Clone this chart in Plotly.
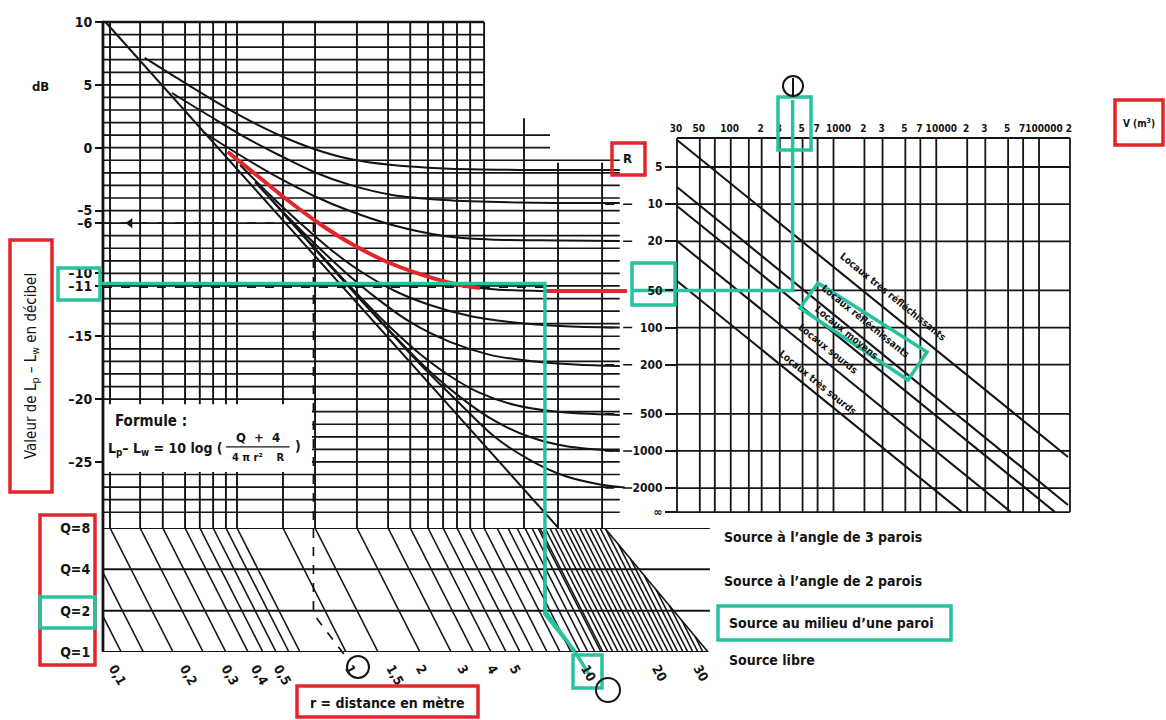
import math
import plotly.graph_objects as go

W, H = 1166, 720
def px(x): return x / W
def py(y): return 1 - y / H

# ---------------- values ----------------
# left chart: level axis (dB)
DB_TICKS = [10, 5, 0, -5, -6, -10, -11, -15, -20, -25]
DB_TEXT = ["10", "5", "0", "–5", "–6", "–10", "–11", "–15", "–20", "–25"]
GRID_DB = list(range(10, -30, -1))          # 1 dB rulings
DB_STRIP_TOP = -30.25                        # lower edge of the level grid
DB_STRIP_BOTTOM = -40.1

# vertical rulings of the level grid, on the distance scale
GRID_R_A = [0.0962, 0.129, 0.161, 0.200, 0.231, 0.263, 0.298, 0.332, 0.52,
            0.711, 1.07, 1.45, 1.80, 2.14, 2.48, 2.84, 3.23, 3.70]
GRID_R_B = [5.46]
GRID_R_C = [7.61, 11.7]
R_LEFT = 0.0898
R_END_A, R_END_B, R_END_C = 3.70, 7.04, 13.9

# direct field line (R = infinity)
INF_R = [0.092, 7.6]
INF_DB = [10.0, -30.2]

# curves Lp-Lw for each room constant R
C5_R = [0.135, 0.176, 0.25, 0.352, 0.50, 0.704, 1.0, 1.51, 2.50, 5.25, 13.9]
C5_DB = [7.14, 5.79, 4.03, 2.44, 1.01, -0.10, -0.90, -1.38, -1.65, -1.77, -1.77]
C10_R = [0.176, 0.25, 0.352, 0.50, 0.704, 1.0, 1.51, 2.50, 5.25, 13.9]
C10_DB = [4.35, 2.60, 0.93, -0.58, -1.93, -2.96, -3.76, -4.16, -4.36, -4.40]
C20_R = [0.238, 0.352, 0.50, 0.704, 1.0, 1.51, 2.50, 3.92, 7.75, 13.9]
C20_DB = [1.25, -0.74, -2.41, -3.84, -5.04, -6.15, -7.02, -7.30, -7.38, -7.42]
C50_R = [0.304, 0.416, 0.557, 0.746, 1.0, 1.407, 1.98, 2.79, 3.92, 6.39, 13.9]
C50_DB = [-0.34, -2.41, -4.32, -6.07, -7.58, -9.01, -10.05, -10.84, -11.24, -11.40, -11.44]
C100_R = [0.342, 0.458, 0.614, 0.823, 1.103, 1.551, 2.18, 3.22, 4.76, 7.75, 13.9]
C100_DB = [-1.38, -3.76, -5.99, -8.06, -9.81, -11.40, -12.51, -13.39, -13.86, -14.18, -14.30]
C200_R = [0.396, 0.530, 0.711, 0.952, 1.276, 1.796, 2.65, 3.92, 5.79, 8.98, 13.9]
C200_DB = [-2.73, -5.27, -7.66, -9.88, -11.87, -13.86, -15.45, -16.48, -16.96, -17.25, -17.37]
C500_R = [0.458, 0.614, 0.823, 1.103, 1.477, 1.98, 2.65, 3.55, 5.0, 7.38, 13.9]
C500_DB = [-4.00, -6.71, -9.33, -11.87, -14.26, -16.41, -18.16, -19.51, -20.47, -20.99, -21.26]
C1000_R = [0.530, 0.746, 1.05, 1.477, 2.08, 2.93, 4.11, 5.79, 8.15, 13.9]
C1000_DB = [-5.35, -8.46, -11.56, -14.59, -17.45, -19.84, -21.74, -23.02, -23.73, -24.13]
C2000_R = [0.614, 0.907, 1.34, 1.98, 2.93, 4.11, 5.79, 8.15, 11.47, 14.6]
C2000_DB = [-6.71, -10.29, -13.79, -17.21, -20.39, -23.02, -24.85, -26.12, -26.79, -27.03]

# highlighted R = 50 curve (red)
RED_R = [0.304, 0.416, 0.557, 0.746, 1.0, 1.407, 1.98, 2.79, 3.55]
RED_DB = [-0.34, -2.41, -4.32, -6.07, -7.58, -9.01, -10.05, -10.84, -11.16]
RED_FLAT_R = [6.7, 14.9]
RED_FLAT_DB = -11.4

# directivity strip
Q_ROWS = [8, 4, 2, 1]
Q_TEXT = ["Q=8", "Q=4", "Q=2", "Q=1"]
Q_SHIFT = 1.85                      # r ratio between Q=1 and Q=8 along an oblique
HATCH_TOP_R = [0.058, 0.072] + GRID_R_A + [4.20, 4.67, 5.10, 5.51, 5.90, 6.26]
HATCH_BOTTOM_R = [11.8, 12.4, 13.0, 13.7, 14.4, 15.1, 15.8, 16.6, 17.4, 18.3, 19.2,
                  20.2, 21.2, 22.3, 23.4, 24.5, 25.8, 27.0, 28.4, 29.8, 31.3]
EDGE_R = [12.0, 32.9]               # right boundary of the hatching (Q=8 -> Q=1)
STRIP_R_END = 33.5
DIST_TICKS = [0.1, 0.2, 0.3, 0.4, 0.5, 1, 1.5, 2, 3, 4, 5, 10, 20, 30]
DIST_TEXT = ["0,1", "0,2", "0,3", "0,4", "0,5", "1", "1,5", "2", "3", "4", "5", "10", "20", "30"]
SOURCE_TEXT = ["Source à l’angle de 3 parois", "Source à l’angle de 2 parois",
               "Source au milieu d’une paroi", "Source libre"]

# right chart: room constant R against volume V
R_TICKS = [5, 10, 20, 50, 100, 200, 500, 1000, 2000, 3126]
R_TEXT = ["5", "10", "20", "50", "100", "200", "500", "1000", "2000", "∞"]
R_TOP, R_BOTTOM = 2.91, 3126
R_CONNECT = [10, 20, 100, 200, 500, 1000, 2000]
V_GRID = [30, 50, 70, 100, 150, 200, 300, 500, 700, 2000, 3000, 5000, 7000,
          20000, 30000, 50000, 70000, 200000]
V_DECADES = [1000, 10000, 100000]
V_TICKS = [30, 50, 100, 200, 300, 500, 700, 2000, 3000, 5000, 7000,
           20000, 30000, 50000, 70000, 200000]
V_TEXT = ["30", "50", "100", "2", "3", "5", "7", "2", "3", "5", "7",
          "2", "3", "5", "7", "2"]
V_DECADE_TEXT = ["1000", "10000", "100000"]
ROOM_NAMES = ["Locaux très réfléchissants", "Locaux réfléchissants", "Locaux moyens",
              "Locaux sourds", "Locaux très sourds"]
ROOM_V0 = [30, 30, 30, 30, 30]
ROOM_R0 = [3.02, 7.26, 10.35, 19.9, 41.96]
ROOM_V1 = [191400, 191400, 142900, 53300, 17800]
ROOM_R1 = [1120, 2741, 3126, 3126, 3126]

# worked example (green path)
EX_DB = -10.8
EX_R_UP = 6.70
EX_R_DIST = [8.98, 10.4]
EX_R50 = 50
EX_V = 400
EX_V_FROM = 10.9
EX_R_TOP = 1.43

# ---------------- styling ----------------
INK = "#141414"
RED = "#e2262b"
GREEN = "#27c29e"
FONT = "DejaVu Sans Condensed, Liberation Sans Narrow, DejaVu Sans, sans-serif"

fig = go.Figure()

def add_lines(xs, ys, xa="x", ya="y", color=INK, width=1.8, dash=None, shape="linear"):
    fig.add_trace(go.Scatter(x=xs, y=ys, mode="lines", xaxis=xa, yaxis=ya,
                             line=dict(color=color, width=width, dash=dash, shape=shape),
                             hoverinfo="skip", showlegend=False))

# ---- level grid ----
hx, hy = [], []
for d in GRID_DB:
    xe = R_END_A if d >= 2 else (R_END_B if d >= 0 else R_END_C)
    hx += [R_LEFT, xe, None]
    hy += [d, d, None]
add_lines(hx, hy, width=1.7)

vx, vy = [], []
for g in GRID_R_A:
    vx += [g, g, None]; vy += [10, DB_STRIP_TOP, None]
for g in GRID_R_B:
    vx += [g, g, None]; vy += [2.35, DB_STRIP_TOP, None]
for g in GRID_R_C:
    vx += [g, g, None]; vy += [-1.2, DB_STRIP_TOP, None]
add_lines(vx, vy, width=1.9)

# formula panel (white) and left frame
fig.add_trace(go.Scatter(x=[R_LEFT, 0.69, 0.69, R_LEFT, R_LEFT],
                         y=[-20.4, -20.4, -25.8, -25.8, -20.4], mode="lines",
                         fill="toself", fillcolor="white", line=dict(width=0),
                         hoverinfo="skip", showlegend=False))
add_lines([R_LEFT, R_LEFT], [10.1, DB_STRIP_BOTTOM], width=2.8)
add_lines([R_LEFT, R_END_A], [10, 10], width=2.4)
add_lines([0.298, 0.555], [-23.8, -23.8], width=1.3)   # fraction bar of the formula

# curves
for cr, cd in [(C5_R, C5_DB), (C10_R, C10_DB), (C20_R, C20_DB), (C50_R, C50_DB),
               (C100_R, C100_DB), (C200_R, C200_DB), (C500_R, C500_DB),
               (C1000_R, C1000_DB), (C2000_R, C2000_DB)]:
    add_lines(cr, cd, width=2.0, shape="spline")
add_lines(INF_R, INF_DB, width=2.0)

# guide lines of the example at -6 dB (dashed)
add_lines([R_LEFT, 0.70], [-6, -6], width=1.7, dash="dash")
fig.add_trace(go.Scatter(x=[0.117], y=[-6], mode="markers",
                         marker=dict(symbol="triangle-left", size=9, color=INK),
                         hoverinfo="skip", showlegend=False))
add_lines([0.70, 0.70, 0.97], [-6, -37.1, -40.6], width=1.7, dash="dash")
add_lines([R_LEFT, EX_R_UP], [-11.1, -11.1], width=1.7, dash="dash")

# highlighted curve
add_lines(RED_R, RED_DB, color=RED, width=4, shape="spline")
add_lines(RED_FLAT_R, [RED_FLAT_DB, RED_FLAT_DB], color=RED, width=4)

# green path on the level chart
add_lines([0.0874, EX_R_UP, EX_R_UP, EX_R_DIST[0], EX_R_DIST[1]],
          [EX_DB, EX_DB, -37.1, -40.1, -42.0], color=GREEN, width=3.5)

# ---- directivity strip (own axes so obliques are clipped) ----
S = math.log10(Q_SHIFT)
E0, E1 = math.log10(EDGE_R[0]), math.log10(EDGE_R[1])
L8 = math.log10(8)
sx, sq = [], []
tops = HATCH_TOP_R + [b / Q_SHIFT for b in HATCH_BOTTOM_R]
for g in tops:
    lg = math.log10(g)
    te = (lg - E0) / ((E1 - E0) - S)
    if te >= 1:
        continue
    t0 = max(0.0, te)
    sx += [10 ** (lg + S * t0), 10 ** (lg + S), None]
    sq += [10 ** (L8 * (1 - t0)), 1, None]
add_lines(sx, sq, xa="x3", ya="y3", width=1.6)
add_lines(EDGE_R, [8, 1], xa="x3", ya="y3", width=1.6)
qx, qy = [], []
for q in Q_ROWS:
    qx += [R_LEFT, STRIP_R_END if q > 1 else EDGE_R[1], None]
    qy += [q, q, None]
add_lines(qx, qy, xa="x3", ya="y3", width=2.0)
add_lines([EX_R_UP, EX_R_UP, EX_R_DIST[0]], [8, 2, 1], xa="x3", ya="y3", color=GREEN, width=3.5)

# ---- room constant chart ----
gx, gy = [], []
for v in V_GRID:
    gx += [v, v, None]; gy += [R_TOP, R_BOTTOM, None]
for r in R_TICKS[:-1]:
    gx += [30, 200000, None]; gy += [r, r, None]
gx += [30, 200000, None, 30, 200000, None]
gy += [R_TOP, R_TOP, None, R_BOTTOM, R_BOTTOM, None]
add_lines(gx, gy, xa="x2", ya="y2", width=1.8)
dx, dy = [], []
for v in V_DECADES:
    dx += [v, v, None]; dy += [R_TOP, R_BOTTOM, None]
add_lines(dx, dy, xa="x4", ya="y2", width=1.8)       # decade rulings (own label axis)
for i in range(5):
    add_lines([ROOM_V0[i], ROOM_V1[i]], [ROOM_R0[i], ROOM_R1[i]], xa="x2", ya="y2", width=2.1)
cx, cy = [], []
for r in R_CONNECT:
    cx += [6.0, 11.0, None]; cy += [r, r, None]
add_lines(cx, cy, xa="x2", ya="y2", width=1.5, dash="dash")
add_lines([EX_V_FROM, EX_V, EX_V], [EX_R50, EX_R50, EX_R_TOP], xa="x2", ya="y2", color=GREEN, width=3.5)

# ---------------- axes ----------------
V_RANGE = [math.log10(30) - 677 / 102.77, math.log10(30) + (W - 677) / 102.77]
fig.update_layout(
    width=W, height=H, margin=dict(l=0, r=0, t=0, b=0, pad=0, autoexpand=False),
    paper_bgcolor="white", plot_bgcolor="rgba(0,0,0,0)", showlegend=False,
    font=dict(family=FONT, color=INK, size=13),
    xaxis=dict(type="log", range=[(0 - 350) / 236, (W - 350) / 236], domain=[0, 1],
               visible=False, fixedrange=True, automargin=False),
    yaxis=dict(range=[(147.7 - H) / 12.57, 147.7 / 12.57], domain=[0, 1], anchor="free",
               position=px(103), tickvals=DB_TICKS, ticktext=DB_TEXT, ticks="outside",
               ticklen=8, tickwidth=2, tickcolor=INK, showgrid=False, zeroline=False,
               showline=False, automargin=False, tickfont=dict(size=14, weight="bold")),
    xaxis2=dict(type="log", range=V_RANGE, domain=[0, 1], anchor="free", position=py(134),
                side="top", tickangle=0, tickvals=V_TICKS, ticktext=V_TEXT, ticks="",
                showgrid=False, zeroline=False, showline=False, automargin=False,
                ticklabelshift=-1, tickfont=dict(size=10, weight="bold")),
    xaxis4=dict(type="log", range=V_RANGE, domain=[0, 1], anchor="free", position=py(134),
                overlaying="x2", side="top", tickangle=0, tickvals=V_DECADES,
                ticktext=V_DECADE_TEXT, ticks="", showgrid=False, zeroline=False,
                showline=False, automargin=False, ticklabelshift=5,
                tickfont=dict(size=10, weight="bold")),
    yaxis2=dict(type="log", range=[math.log10(5) + (H - 167) / 123.4, math.log10(5) - 167 / 123.4],
                domain=[0, 1], anchor="free", position=px(677), tickvals=R_TICKS, ticktext=R_TEXT,
                ticks="outside", ticklen=12, tickwidth=1.8, tickcolor=INK, showgrid=False,
                zeroline=False, showline=False, automargin=False,
                tickfont=dict(size=12, weight="bold")),
    xaxis3=dict(type="log", range=[(103 - 350) / 236, (712 - 350) / 236],
                domain=[px(103), px(712)], anchor="y3", tickvals=DIST_TICKS, ticktext=DIST_TEXT,
                tickangle=60, ticks="outside", ticklen=3, tickcolor="rgba(0,0,0,0)",
                showgrid=False, zeroline=False, showline=False, automargin=False,
                tickfont=dict(size=13, weight="bold")),
    yaxis3=dict(type="log", range=[0, math.log10(8)], domain=[py(652), py(528)], anchor="x3",
                tickvals=Q_ROWS, ticktext=Q_TEXT, ticks="outside", ticklen=9,
                tickcolor="rgba(0,0,0,0)", showgrid=False, zeroline=False, showline=False,
                automargin=False, tickfont=dict(size=14, weight="bold")),
)

# ---------------- texts ----------------
def note(x, y, text, size=13, angle=0, xanchor="center", color=INK, bold=True):
    fig.add_annotation(x=px(x), y=py(y), xref="paper", yref="paper", text=text,
                       showarrow=False, textangle=angle, xanchor=xanchor, yanchor="middle",
                       font=dict(size=size, color=color, family=FONT,
                                 weight="bold" if bold else "normal"))

note(40, 86, "dB", 13)
note(31, 366, "Valeur de L<sub>p</sub> – L<sub>w</sub> en décibel", 15, angle=-90, bold=False)
note(113, 421, "Formule :", 15, xanchor="left")
note(106, 449, "L<sub>p</sub>– L<sub>w</sub> = 10 log (", 14, xanchor="left")
note(258, 438, "Q  +  4", 13)
note(258, 457, "4 π r²    R", 11)
note(298, 446, ")", 14)
note(628, 158, "R", 13)
note(1139, 123, "V (m<sup>3</sup>)", 10)
note(387, 703, "r = distance en mètre", 14)
for i, t in enumerate(SOURCE_TEXT):
    note(722 + (5 if i >= 2 else 0), [537, 581, 623, 660][i], t, 14, xanchor="left")
room_pos = [(893, 296), (866, 321), (847, 332), (828, 348), (818, 382)]
for (x, y), t in zip(room_pos, ROOM_NAMES):
    note(x, y, t, 10, angle=39)

# boxes
def box(x0, y0, x1, y1, color):
    fig.add_shape(type="rect", xref="paper", yref="paper", x0=px(x0), y0=py(y0),
                  x1=px(x1), y1=py(y1), line=dict(color=color, width=3.5))
box(10, 240, 52, 492, RED)
box(40, 515, 95, 665, RED)
box(612, 143, 645, 175, RED)
box(1115, 100, 1163, 145, RED)
box(297, 686, 478, 717, RED)
box(58, 268, 100, 300, GREEN)
box(40, 597, 95, 628, GREEN)
box(632, 263, 675, 305, GREEN)
box(778, 97, 811, 150, GREEN)
box(573, 655, 602, 688, GREEN)
box(718, 606, 951, 640, GREEN)
fig.add_shape(type="path", xref="paper", yref="paper",
              path="M {} {} L {} {} L {} {} L {} {} Z".format(px(818), py(283), px(927), py(352),
                                                               px(908), py(380), px(800), py(308)),
              line=dict(color=GREEN, width=3.5))
# hand-drawn circles
for (x, y, r) in [(793, 86, 10), (358, 667, 11), (608, 690, 12)]:
    fig.add_shape(type="circle", xref="paper", yref="paper", x0=px(x - r), y0=py(y - r),
                  x1=px(x + r), y1=py(y + r), line=dict(color=INK, width=2))
fig.add_shape(type="line", xref="paper", yref="paper", x0=px(793), y0=py(78), x1=px(793), y1=py(96),
              line=dict(color=INK, width=2))

fig.write_html("out.html", config={"displayModeBar": False},
               post_script="document.body.style.margin='0';document.body.style.padding='0';")
